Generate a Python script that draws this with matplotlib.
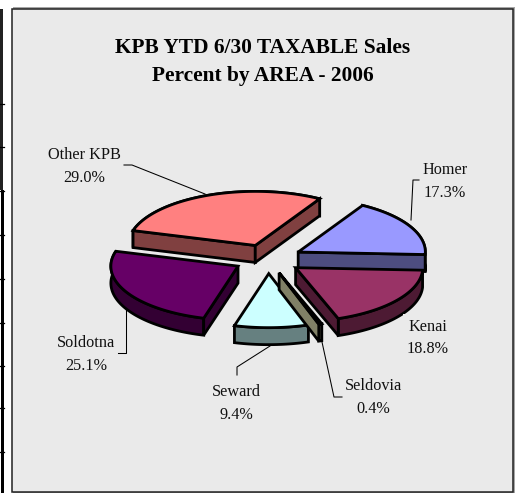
import numpy as np
import matplotlib
matplotlib.use("Agg")
import matplotlib.pyplot as plt
from matplotlib.patches import Polygon, Rectangle
from matplotlib.transforms import Affine2D

plt.rcParams['font.family'] = ['Liberation Serif', 'DejaVu Serif']

TITLE = "KPB YTD 6/30 TAXABLE Sales\nPercent by AREA - 2006"
areas = ['Homer', 'Kenai', 'Seldovia', 'Seward', 'Soldotna', 'Other KPB']
percents = [17.3, 18.8, 0.4, 9.4, 25.1, 29.0]
top_colors = ['#9999ff', '#993366', '#ffffcc', '#ccffff', '#660066', '#ff8080']
side_colors = ['#4d4d80', '#4d1a33', '#808066', '#668080', '#330033', '#804040']

# label centres and leader lines, in picture pixels
label_pos = [(445, 181.5), (428, 338), (373, 397.5), (236, 403.5), (86, 354.5), (84, 166.5)]
leaders = [
    [(419, 180), (413, 180), (411, 220)],
    None,
    [(322, 342), (334, 397), (342, 397)],
    [(270, 346), (237, 367), (237, 375)],
    [(126, 310), (126, 353), (118, 353)],
    [(124, 165), (132, 165), (205, 194)],
]

EXPLODE = 0.27
DEPTH = 17
LW = 2.0
DRAW_ORDER = [5, 0, 4, 1, 3, 2]

# tilted plate -> pixels (y down)
plate = Affine2D.from_values(127, 2.5, 6, -54, 268, 259)


def faces_viewer(a, b, inside):
    # wall under edge a-b shows if its outward normal points down the picture
    edge = b - a
    normal = np.array([edge[1], -edge[0]])
    if np.dot(normal, inside - a) > 0:
        normal = -normal
    return normal[1] > 0


def draw_slice(ax, a0, a1, top, side):
    mid = np.radians((a0 + a1) / 2)
    off = EXPLODE * np.array([np.cos(mid), np.sin(mid)])
    t = np.radians(np.linspace(a0, a1, max(int(abs(a1 - a0)), 2) + 1))
    arc = plate.transform(np.column_stack([np.cos(t), np.sin(t)]) + off)
    apex = plate.transform(off.reshape(1, 2))
    down = np.array([0, DEPTH])
    inside = plate.transform((off + 0.5 * np.array([np.cos(mid), np.sin(mid)])).reshape(1, 2))[0]

    ax.add_patch(Polygon(np.vstack([arc, (arc + down)[::-1]]), closed=True, fc=side, ec='black', lw=LW))
    for end in (arc[:1], arc[-1:]):
        if faces_viewer(apex[0], end[0], inside):
            wall = np.vstack([apex, end, end + down, apex + down])
            ax.add_patch(Polygon(wall, closed=True, fc=side, ec='black', lw=LW))
    ax.add_patch(Polygon(np.vstack([apex, arc]), closed=True, fc=top, ec='black', lw=LW))


fig = plt.figure(figsize=(5.19, 4.93), dpi=100, facecolor='white')
ax = fig.add_axes([0, 0, 1, 1])
ax.set_xlim(0, 519)
ax.set_ylim(493, 0)
ax.axis('off')

# page edge on the left, with its row ticks
ax.add_patch(Rectangle((0, 9), 3, 181, fc='#222222', ec='none'))
ax.add_patch(Rectangle((1, 190), 3, 303, fc='black', ec='none'))
for y in [104, 147, 191, 235, 279, 323, 366, 408, 452]:
    ax.plot([0, 4], [y, y], color='black', lw=0.9)

ax.add_patch(Rectangle((13, 7), 502, 487, fc='#a6a6a6', ec='none'))
ax.add_patch(Rectangle((11.5, 8.5), 501, 483.5, fc='#eaeaea', ec='#222222', lw=1.1))

ax.text(263, 62, TITLE, ha='center', va='center', fontsize=15.4, fontweight='bold',
        linespacing=1.55, color='black')

shares = np.array(percents) / np.sum(percents) * 360
ends = np.cumsum(shares)
starts = ends - shares
# Homer goes counter-clockwise from east, the rest clockwise
angles = [(0, shares[0])]
for i in range(1, len(percents)):
    angles.append((-(starts[i] - shares[0]), -(ends[i] - shares[0])))

for i in DRAW_ORDER:
    a0, a1 = angles[i]
    draw_slice(ax, a0, a1, top_colors[i], side_colors[i])

for i, name in enumerate(areas):
    x, y = label_pos[i]
    box = None
    if name == 'Kenai':
        box = dict(fc='#eaeaea', ec='none', pad=3)
    ax.text(x, y, f"{name}\n{percents[i]:.1f}%", ha='center', va='center', fontsize=11.7,
            linespacing=1.55, color='#111111', bbox=box, zorder=6)
    if leaders[i]:
        xs, ys = zip(*leaders[i])
        ax.plot(xs, ys, color='black', lw=0.75, zorder=5)

fig.savefig('out.png', dpi=100)
